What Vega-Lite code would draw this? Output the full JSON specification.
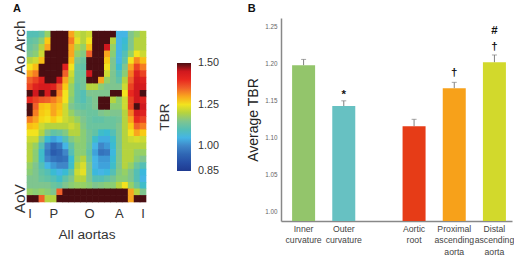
{"$schema":"https://vega.github.io/schema/vega-lite/v6.json","background":"white","padding":{"left":11,"top":3,"right":0,"bottom":0},"spacing":99,"config":{"view":{"stroke":null},"font":"Liberation Sans"},
"hconcat":[
{"width":119,"height":184,"title":{"text":"A","anchor":"start","fontSize":11,"fontWeight":"bold","color":"#111","dx":1,"offset":4},
"data":{"values":[
{"y":0,"x":0,"v":1.10},{"y":0,"x":1,"v":1.10},{"y":0,"x":2,"v":1.12},{"y":0,"x":3,"v":1.18},{"y":0,"x":4,"v":1.5},{"y":0,"x":5,"v":1.5},{"y":0,"x":6,"v":1.5},{"y":0,"x":7,"v":1.30},{"y":0,"x":8,"v":1.22},{"y":0,"x":9,"v":1.20},{"y":0,"x":10,"v":1.22},{"y":0,"x":11,"v":1.5},{"y":0,"x":12,"v":1.5},{"y":0,"x":13,"v":1.5},{"y":0,"x":14,"v":1.5},{"y":0,"x":15,"v":1.05},{"y":0,"x":16,"v":1.05},{"y":0,"x":17,"v":1.15},{"y":0,"x":18,"v":1.18},{"y":0,"x":19,"v":1.2},
{"y":1,"x":0,"v":1.12},{"y":1,"x":1,"v":1.13},{"y":1,"x":2,"v":1.17},{"y":1,"x":3,"v":1.27},{"y":1,"x":4,"v":1.5},{"y":1,"x":5,"v":1.5},{"y":1,"x":6,"v":1.5},{"y":1,"x":7,"v":1.33},{"y":1,"x":8,"v":1.24},{"y":1,"x":9,"v":1.2},{"y":1,"x":10,"v":1.25},{"y":1,"x":11,"v":1.5},{"y":1,"x":12,"v":1.5},{"y":1,"x":13,"v":1.5},{"y":1,"x":14,"v":1.2},{"y":1,"x":15,"v":1.05},{"y":1,"x":16,"v":1.07},{"y":1,"x":17,"v":1.15},{"y":1,"x":18,"v":1.2},{"y":1,"x":19,"v":1.2},
{"y":2,"x":0,"v":1.13},{"y":2,"x":1,"v":1.15},{"y":2,"x":2,"v":1.2},{"y":2,"x":3,"v":1.3},{"y":2,"x":4,"v":1.5},{"y":2,"x":5,"v":1.5},{"y":2,"x":6,"v":1.5},{"y":2,"x":7,"v":1.3},{"y":2,"x":8,"v":1.2},{"y":2,"x":9,"v":1.18},{"y":2,"x":10,"v":1.28},{"y":2,"x":11,"v":1.5},{"y":2,"x":12,"v":1.5},{"y":2,"x":13,"v":1.45},{"y":2,"x":14,"v":1.18},{"y":2,"x":15,"v":1.05},{"y":2,"x":16,"v":1.08},{"y":2,"x":17,"v":1.15},{"y":2,"x":18,"v":1.2},{"y":2,"x":19,"v":1.2},
{"y":3,"x":0,"v":1.15},{"y":3,"x":1,"v":1.17},{"y":3,"x":2,"v":1.22},{"y":3,"x":3,"v":1.5},{"y":3,"x":4,"v":1.5},{"y":3,"x":5,"v":1.5},{"y":3,"x":6,"v":1.5},{"y":3,"x":7,"v":1.3},{"y":3,"x":8,"v":1.18},{"y":3,"x":9,"v":1.16},{"y":3,"x":10,"v":1.35},{"y":3,"x":11,"v":1.5},{"y":3,"x":12,"v":1.5},{"y":3,"x":13,"v":1.3},{"y":3,"x":14,"v":1.17},{"y":3,"x":15,"v":1.05},{"y":3,"x":16,"v":1.1},{"y":3,"x":17,"v":1.18},{"y":3,"x":18,"v":1.25},{"y":3,"x":19,"v":1.22},
{"y":4,"x":0,"v":1.2},{"y":4,"x":1,"v":1.22},{"y":4,"x":2,"v":1.28},{"y":4,"x":3,"v":1.5},{"y":4,"x":4,"v":1.5},{"y":4,"x":5,"v":1.5},{"y":4,"x":6,"v":1.5},{"y":4,"x":7,"v":1.28},{"y":4,"x":8,"v":1.15},{"y":4,"x":9,"v":1.13},{"y":4,"x":10,"v":1.5},{"y":4,"x":11,"v":1.5},{"y":4,"x":12,"v":1.5},{"y":4,"x":13,"v":1.27},{"y":4,"x":14,"v":1.15},{"y":4,"x":15,"v":1.05},{"y":4,"x":16,"v":1.12},{"y":4,"x":17,"v":1.25},{"y":4,"x":18,"v":1.32},{"y":4,"x":19,"v":1.28},
{"y":5,"x":0,"v":1.25},{"y":5,"x":1,"v":1.28},{"y":5,"x":2,"v":1.5},{"y":5,"x":3,"v":1.5},{"y":5,"x":4,"v":1.5},{"y":5,"x":5,"v":1.5},{"y":5,"x":6,"v":1.42},{"y":5,"x":7,"v":1.25},{"y":5,"x":8,"v":1.13},{"y":5,"x":9,"v":1.12},{"y":5,"x":10,"v":1.5},{"y":5,"x":11,"v":1.5},{"y":5,"x":12,"v":1.5},{"y":5,"x":13,"v":1.25},{"y":5,"x":14,"v":1.15},{"y":5,"x":15,"v":1.07},{"y":5,"x":16,"v":1.15},{"y":5,"x":17,"v":1.3},{"y":5,"x":18,"v":1.38},{"y":5,"x":19,"v":1.33},
{"y":6,"x":0,"v":1.3},{"y":6,"x":1,"v":1.33},{"y":6,"x":2,"v":1.5},{"y":6,"x":3,"v":1.5},{"y":6,"x":4,"v":1.5},{"y":6,"x":5,"v":1.5},{"y":6,"x":6,"v":1.35},{"y":6,"x":7,"v":1.22},{"y":6,"x":8,"v":1.13},{"y":6,"x":9,"v":1.13},{"y":6,"x":10,"v":1.45},{"y":6,"x":11,"v":1.5},{"y":6,"x":12,"v":1.5},{"y":6,"x":13,"v":1.22},{"y":6,"x":14,"v":1.15},{"y":6,"x":15,"v":1.1},{"y":6,"x":16,"v":1.17},{"y":6,"x":17,"v":1.33},{"y":6,"x":18,"v":1.42},{"y":6,"x":19,"v":1.38},
{"y":7,"x":0,"v":1.35},{"y":7,"x":1,"v":1.38},{"y":7,"x":2,"v":1.42},{"y":7,"x":3,"v":1.5},{"y":7,"x":4,"v":1.5},{"y":7,"x":5,"v":1.45},{"y":7,"x":6,"v":1.3},{"y":7,"x":7,"v":1.2},{"y":7,"x":8,"v":1.13},{"y":7,"x":9,"v":1.14},{"y":7,"x":10,"v":1.5},{"y":7,"x":11,"v":1.5},{"y":7,"x":12,"v":1.3},{"y":7,"x":13,"v":1.18},{"y":7,"x":14,"v":1.15},{"y":7,"x":15,"v":1.12},{"y":7,"x":16,"v":1.2},{"y":7,"x":17,"v":1.35},{"y":7,"x":18,"v":1.44},{"y":7,"x":19,"v":1.42},
{"y":8,"x":0,"v":1.38},{"y":8,"x":1,"v":1.42},{"y":8,"x":2,"v":1.44},{"y":8,"x":3,"v":1.44},{"y":8,"x":4,"v":1.42},{"y":8,"x":5,"v":1.35},{"y":8,"x":6,"v":1.27},{"y":8,"x":7,"v":1.18},{"y":8,"x":8,"v":1.12},{"y":8,"x":9,"v":1.14},{"y":8,"x":10,"v":1.2},{"y":8,"x":11,"v":1.2},{"y":8,"x":12,"v":1.17},{"y":8,"x":13,"v":1.15},{"y":8,"x":14,"v":1.15},{"y":8,"x":15,"v":1.15},{"y":8,"x":16,"v":1.22},{"y":8,"x":17,"v":1.38},{"y":8,"x":18,"v":1.45},{"y":8,"x":19,"v":1.44},
{"y":9,"x":0,"v":1.5},{"y":9,"x":1,"v":1.45},{"y":9,"x":2,"v":1.5},{"y":9,"x":3,"v":1.44},{"y":9,"x":4,"v":1.5},{"y":9,"x":5,"v":1.33},{"y":9,"x":6,"v":1.25},{"y":9,"x":7,"v":1.18},{"y":9,"x":8,"v":1.12},{"y":9,"x":9,"v":1.1},{"y":9,"x":10,"v":1.15},{"y":9,"x":11,"v":1.15},{"y":9,"x":12,"v":1.15},{"y":9,"x":13,"v":1.15},{"y":9,"x":14,"v":1.5},{"y":9,"x":15,"v":1.5},{"y":9,"x":16,"v":1.25},{"y":9,"x":17,"v":1.4},{"y":9,"x":18,"v":1.45},{"y":9,"x":19,"v":1.5},
{"y":10,"x":0,"v":1.4},{"y":10,"x":1,"v":1.38},{"y":10,"x":2,"v":1.36},{"y":10,"x":3,"v":1.35},{"y":10,"x":4,"v":1.33},{"y":10,"x":5,"v":1.3},{"y":10,"x":6,"v":1.25},{"y":10,"x":7,"v":1.17},{"y":10,"x":8,"v":1.12},{"y":10,"x":9,"v":1.1},{"y":10,"x":10,"v":1.13},{"y":10,"x":11,"v":1.15},{"y":10,"x":12,"v":1.5},{"y":10,"x":13,"v":1.5},{"y":10,"x":14,"v":1.2},{"y":10,"x":15,"v":1.17},{"y":10,"x":16,"v":1.22},{"y":10,"x":17,"v":1.38},{"y":10,"x":18,"v":1.45},{"y":10,"x":19,"v":1.42},
{"y":11,"x":0,"v":1.5},{"y":11,"x":1,"v":1.35},{"y":11,"x":2,"v":1.28},{"y":11,"x":3,"v":1.27},{"y":11,"x":4,"v":1.3},{"y":11,"x":5,"v":1.28},{"y":11,"x":6,"v":1.22},{"y":11,"x":7,"v":1.15},{"y":11,"x":8,"v":1.13},{"y":11,"x":9,"v":1.12},{"y":11,"x":10,"v":1.13},{"y":11,"x":11,"v":1.15},{"y":11,"x":12,"v":1.5},{"y":11,"x":13,"v":1.5},{"y":11,"x":14,"v":1.17},{"y":11,"x":15,"v":1.17},{"y":11,"x":16,"v":1.22},{"y":11,"x":17,"v":1.38},{"y":11,"x":18,"v":1.5},{"y":11,"x":19,"v":1.45},
{"y":12,"x":0,"v":1.5},{"y":12,"x":1,"v":1.33},{"y":12,"x":2,"v":1.27},{"y":12,"x":3,"v":1.26},{"y":12,"x":4,"v":1.3},{"y":12,"x":5,"v":1.27},{"y":12,"x":6,"v":1.22},{"y":12,"x":7,"v":1.18},{"y":12,"x":8,"v":1.15},{"y":12,"x":9,"v":1.14},{"y":12,"x":10,"v":1.13},{"y":12,"x":11,"v":1.13},{"y":12,"x":12,"v":1.15},{"y":12,"x":13,"v":1.16},{"y":12,"x":14,"v":1.15},{"y":12,"x":15,"v":1.15},{"y":12,"x":16,"v":1.2},{"y":12,"x":17,"v":1.33},{"y":12,"x":18,"v":1.44},{"y":12,"x":19,"v":1.42},
{"y":13,"x":0,"v":1.33},{"y":13,"x":1,"v":1.3},{"y":13,"x":2,"v":1.26},{"y":13,"x":3,"v":1.25},{"y":13,"x":4,"v":1.27},{"y":13,"x":5,"v":1.25},{"y":13,"x":6,"v":1.22},{"y":13,"x":7,"v":1.2},{"y":13,"x":8,"v":1.18},{"y":13,"x":9,"v":1.15},{"y":13,"x":10,"v":1.13},{"y":13,"x":11,"v":1.12},{"y":13,"x":12,"v":1.12},{"y":13,"x":13,"v":1.13},{"y":13,"x":14,"v":1.13},{"y":13,"x":15,"v":1.14},{"y":13,"x":16,"v":1.2},{"y":13,"x":17,"v":1.3},{"y":13,"x":18,"v":1.4},{"y":13,"x":19,"v":1.38},
{"y":14,"x":0,"v":1.28},{"y":14,"x":1,"v":1.27},{"y":14,"x":2,"v":1.22},{"y":14,"x":3,"v":1.2},{"y":14,"x":4,"v":1.2},{"y":14,"x":5,"v":1.2},{"y":14,"x":6,"v":1.2},{"y":14,"x":7,"v":1.22},{"y":14,"x":8,"v":1.2},{"y":14,"x":9,"v":1.16},{"y":14,"x":10,"v":1.13},{"y":14,"x":11,"v":1.13},{"y":14,"x":12,"v":1.13},{"y":14,"x":13,"v":1.13},{"y":14,"x":14,"v":1.13},{"y":14,"x":15,"v":1.15},{"y":14,"x":16,"v":1.2},{"y":14,"x":17,"v":1.27},{"y":14,"x":18,"v":1.35},{"y":14,"x":19,"v":1.33},
{"y":15,"x":0,"v":1.25},{"y":15,"x":1,"v":1.25},{"y":15,"x":2,"v":1.2},{"y":15,"x":3,"v":1.15},{"y":15,"x":4,"v":1.12},{"y":15,"x":5,"v":1.13},{"y":15,"x":6,"v":1.16},{"y":15,"x":7,"v":1.2},{"y":15,"x":8,"v":1.2},{"y":15,"x":9,"v":1.17},{"y":15,"x":10,"v":1.14},{"y":15,"x":11,"v":1.12},{"y":15,"x":12,"v":1.08},{"y":15,"x":13,"v":1.07},{"y":15,"x":14,"v":1.1},{"y":15,"x":15,"v":1.15},{"y":15,"x":16,"v":1.2},{"y":15,"x":17,"v":1.25},{"y":15,"x":18,"v":1.3},{"y":15,"x":19,"v":1.27},
{"y":16,"x":0,"v":1.22},{"y":16,"x":1,"v":1.22},{"y":16,"x":2,"v":1.15},{"y":16,"x":3,"v":1.07},{"y":16,"x":4,"v":1.03},{"y":16,"x":5,"v":1.05},{"y":16,"x":6,"v":1.1},{"y":16,"x":7,"v":1.16},{"y":16,"x":8,"v":1.18},{"y":16,"x":9,"v":1.17},{"y":16,"x":10,"v":1.14},{"y":16,"x":11,"v":1.08},{"y":16,"x":12,"v":1.04},{"y":16,"x":13,"v":1.04},{"y":16,"x":14,"v":1.08},{"y":16,"x":15,"v":1.15},{"y":16,"x":16,"v":1.2},{"y":16,"x":17,"v":1.22},{"y":16,"x":18,"v":1.23},{"y":16,"x":19,"v":1.22},
{"y":17,"x":0,"v":1.2},{"y":17,"x":1,"v":1.18},{"y":17,"x":2,"v":1.1},{"y":17,"x":3,"v":1.0},{"y":17,"x":4,"v":0.95},{"y":17,"x":5,"v":0.98},{"y":17,"x":6,"v":1.05},{"y":17,"x":7,"v":1.12},{"y":17,"x":8,"v":1.17},{"y":17,"x":9,"v":1.17},{"y":17,"x":10,"v":1.13},{"y":17,"x":11,"v":1.05},{"y":17,"x":12,"v":1.0},{"y":17,"x":13,"v":1.02},{"y":17,"x":14,"v":1.07},{"y":17,"x":15,"v":1.15},{"y":17,"x":16,"v":1.2},{"y":17,"x":17,"v":1.2},{"y":17,"x":18,"v":1.2},{"y":17,"x":19,"v":1.2},
{"y":18,"x":0,"v":1.2},{"y":18,"x":1,"v":1.17},{"y":18,"x":2,"v":1.08},{"y":18,"x":3,"v":0.98},{"y":18,"x":4,"v":0.93},{"y":18,"x":5,"v":0.95},{"y":18,"x":6,"v":1.0},{"y":18,"x":7,"v":1.1},{"y":18,"x":8,"v":1.17},{"y":18,"x":9,"v":1.17},{"y":18,"x":10,"v":1.12},{"y":18,"x":11,"v":1.03},{"y":18,"x":12,"v":0.97},{"y":18,"x":13,"v":0.98},{"y":18,"x":14,"v":1.06},{"y":18,"x":15,"v":1.15},{"y":18,"x":16,"v":1.2},{"y":18,"x":17,"v":1.2},{"y":18,"x":18,"v":1.18},{"y":18,"x":19,"v":1.18},
{"y":19,"x":0,"v":1.2},{"y":19,"x":1,"v":1.17},{"y":19,"x":2,"v":1.08},{"y":19,"x":3,"v":1.0},{"y":19,"x":4,"v":0.97},{"y":19,"x":5,"v":0.96},{"y":19,"x":6,"v":0.97},{"y":19,"x":7,"v":1.07},{"y":19,"x":8,"v":1.18},{"y":19,"x":9,"v":1.2},{"y":19,"x":10,"v":1.13},{"y":19,"x":11,"v":1.05},{"y":19,"x":12,"v":1.02},{"y":19,"x":13,"v":1.02},{"y":19,"x":14,"v":1.07},{"y":19,"x":15,"v":1.15},{"y":19,"x":16,"v":1.2},{"y":19,"x":17,"v":1.2},{"y":19,"x":18,"v":1.17},{"y":19,"x":19,"v":1.15},
{"y":20,"x":0,"v":1.18},{"y":20,"x":1,"v":1.15},{"y":20,"x":2,"v":1.1},{"y":20,"x":3,"v":1.05},{"y":20,"x":4,"v":1.02},{"y":20,"x":5,"v":1.0},{"y":20,"x":6,"v":1.0},{"y":20,"x":7,"v":1.08},{"y":20,"x":8,"v":1.2},{"y":20,"x":9,"v":1.23},{"y":20,"x":10,"v":1.15},{"y":20,"x":11,"v":1.05},{"y":20,"x":12,"v":1.03},{"y":20,"x":13,"v":1.03},{"y":20,"x":14,"v":1.08},{"y":20,"x":15,"v":1.15},{"y":20,"x":16,"v":1.2},{"y":20,"x":17,"v":1.18},{"y":20,"x":18,"v":1.13},{"y":20,"x":19,"v":1.1},
{"y":21,"x":0,"v":1.17},{"y":21,"x":1,"v":1.15},{"y":21,"x":2,"v":1.12},{"y":21,"x":3,"v":1.1},{"y":21,"x":4,"v":1.07},{"y":21,"x":5,"v":1.05},{"y":21,"x":6,"v":1.07},{"y":21,"x":7,"v":1.12},{"y":21,"x":8,"v":1.22},{"y":21,"x":9,"v":1.24},{"y":21,"x":10,"v":1.15},{"y":21,"x":11,"v":1.06},{"y":21,"x":12,"v":1.05},{"y":21,"x":13,"v":1.06},{"y":21,"x":14,"v":1.1},{"y":21,"x":15,"v":1.16},{"y":21,"x":16,"v":1.18},{"y":21,"x":17,"v":1.15},{"y":21,"x":18,"v":1.1},{"y":21,"x":19,"v":1.06},
{"y":22,"x":0,"v":1.15},{"y":22,"x":1,"v":1.15},{"y":22,"x":2,"v":1.13},{"y":22,"x":3,"v":1.12},{"y":22,"x":4,"v":1.1},{"y":22,"x":5,"v":1.08},{"y":22,"x":6,"v":1.12},{"y":22,"x":7,"v":1.15},{"y":22,"x":8,"v":1.2},{"y":22,"x":9,"v":1.2},{"y":22,"x":10,"v":1.15},{"y":22,"x":11,"v":1.1},{"y":22,"x":12,"v":1.1},{"y":22,"x":13,"v":1.12},{"y":22,"x":14,"v":1.14},{"y":22,"x":15,"v":1.17},{"y":22,"x":16,"v":1.17},{"y":22,"x":17,"v":1.15},{"y":22,"x":18,"v":1.1},{"y":22,"x":19,"v":1.05},
{"y":23,"x":0,"v":1.15},{"y":23,"x":1,"v":1.15},{"y":23,"x":2,"v":1.15},{"y":23,"x":3,"v":1.15},{"y":23,"x":4,"v":1.13},{"y":23,"x":5,"v":1.12},{"y":23,"x":6,"v":1.15},{"y":23,"x":7,"v":1.17},{"y":23,"x":8,"v":1.18},{"y":23,"x":9,"v":1.18},{"y":23,"x":10,"v":1.17},{"y":23,"x":11,"v":1.15},{"y":23,"x":12,"v":1.16},{"y":23,"x":13,"v":1.17},{"y":23,"x":14,"v":1.17},{"y":23,"x":15,"v":1.2},{"y":23,"x":16,"v":1.25},{"y":23,"x":17,"v":1.18},{"y":23,"x":18,"v":1.13},{"y":23,"x":19,"v":1.08},
{"y":24,"x":0,"v":1.18},{"y":24,"x":1,"v":1.17},{"y":24,"x":2,"v":1.18},{"y":24,"x":3,"v":1.17},{"y":24,"x":4,"v":1.15},{"y":24,"x":5,"v":1.35},{"y":24,"x":6,"v":1.5},{"y":24,"x":7,"v":1.5},{"y":24,"x":8,"v":1.5},{"y":24,"x":9,"v":1.5},{"y":24,"x":10,"v":1.5},{"y":24,"x":11,"v":1.5},{"y":24,"x":12,"v":1.5},{"y":24,"x":13,"v":1.5},{"y":24,"x":14,"v":1.5},{"y":24,"x":15,"v":1.5},{"y":24,"x":16,"v":1.5},{"y":24,"x":17,"v":1.3},{"y":24,"x":18,"v":1.2},{"y":24,"x":19,"v":1.15},
{"y":25,"x":0,"v":1.5},{"y":25,"x":1,"v":1.5},{"y":25,"x":2,"v":1.35},{"y":25,"x":3,"v":1.2},{"y":25,"x":4,"v":1.2},{"y":25,"x":5,"v":1.5},{"y":25,"x":6,"v":1.5},{"y":25,"x":7,"v":1.5},{"y":25,"x":8,"v":1.5},{"y":25,"x":9,"v":1.5},{"y":25,"x":10,"v":1.5},{"y":25,"x":11,"v":1.5},{"y":25,"x":12,"v":1.5},{"y":25,"x":13,"v":1.5},{"y":25,"x":14,"v":1.5},{"y":25,"x":15,"v":1.5},{"y":25,"x":16,"v":1.5},{"y":25,"x":17,"v":1.3},{"y":25,"x":18,"v":1.5},{"y":25,"x":19,"v":1.5}
]},
"mark":{"type":"rect","width":6.6,"height":7.2},
"encoding":{
"x":{"field":"x","type":"ordinal","scale":{"type":"band","paddingInner":0,"paddingOuter":0,"domain":[0,1,2,3,4,5,6,7,8,9,10,11,12,13,14,15,16,17,18,19]},"axis":{"values":[0,4,10,15,19],"labelExpr":"datum.value==0?'I':datum.value==4?'P':datum.value==10?'O':datum.value==15?'A':'I'","labelAngle":0,"labelFontSize":13,"labelColor":"#333","labelPadding":5,"domain":false,"ticks":false,"grid":false,"title":"All aortas","titleFontSize":13.7,"titleFontWeight":"normal","titleColor":"#333","titlePadding":7}},
"y":{"field":"y","type":"ordinal","scale":{"type":"band","paddingInner":0,"paddingOuter":0,"domain":[-2,-1,0,1,2,3,4,5,6,7,8,9,10,11,12,13,14,15,16,17,18,19,20,21,22,23,24,25]},"axis":{"values":[2,25],"labelExpr":"datum.value==2?'Ao Arch':'AoV'","labelAngle":-90,"labelAlign":"center","labelBaseline":"bottom","labelFontSize":15.5,"labelColor":"#333","labelPadding":0,"labelOverlap":false,"domain":false,"ticks":false,"grid":false,"title":null}},
"color":{"field":"v","type":"quantitative","scale":{"domain":[0.85,0.9,0.95,1.0,1.05,1.1,1.15,1.2,1.25,1.3,1.35,1.4,1.45,1.5],"range":["#1f3a90","#264ea5","#2f66b4","#3f86c8","#45b5e5","#55bfb5","#7fc58f","#b5d33f","#f2e31e","#f9a51e","#f0602a","#e8281f","#d0181e","#4a0e12"]},
"legend":{"title":"TBR","orient":"none","legendX":131,"legendY":45,"direction":"vertical","titleOrient":"left","titleFontSize":13.7,"titleFontWeight":"normal","titleColor":"#333","gradientLength":108,"gradientThickness":14,"values":[0.85,1.0,1.25,1.5],"format":".2f","labelFontSize":10.8,"labelColor":"#333","labelOffset":7,"gradientStrokeWidth":0,"encode":{"labels":{"update":{"baseline":{"value":"middle"}}},"title":{"update":{"angle":{"value":-90}}}}}}
}},
{"width":231,"height":203,"title":{"text":"B","anchor":"start","fontSize":11,"fontWeight":"bold","color":"#111","dx":1,"offset":4},
"layer":[
{"data":{"values":[{"g":"Inner|curvature","a":1.198,"e":1.206,"c":"#93c56b"},{"g":"Outer|curvature","a":1.143,"e":1.150,"c":"#67c1c2"},{"g":"Aortic|root","a":1.1156,"e":1.125,"c":"#e63c17"},{"g":"Proximal|ascending|aorta","a":1.167,"e":1.175,"c":"#f7a11a"},{"g":"Distal|ascending|aorta","a":1.202,"e":1.212,"c":"#d2d92c"}]},
"layer":[
{"mark":{"type":"rule","color":"#808080","strokeWidth":1},"encoding":{"x":{"field":"g","type":"ordinal"},"y":{"field":"a","type":"quantitative"},"y2":{"field":"e"}}},
{"mark":{"type":"tick","orient":"horizontal","size":5,"thickness":1,"color":"#808080"},"encoding":{"x":{"field":"g","type":"ordinal"},"y":{"field":"e","type":"quantitative"}}},
{"mark":{"type":"bar","size":23},"encoding":{"x":{"field":"g","type":"ordinal"},"y":{"field":"a","type":"quantitative"},"y2":{"datum":0.9875},"color":{"field":"c","type":"nominal","scale":null,"legend":null}}}
],
"encoding":{"x":{"field":"g","type":"ordinal","scale":{"type":"band","paddingInner":0,"paddingOuter":0,"domain":["a0","a1","a2","a3","Inner|curvature","b1","b2","b3","b4","b5","b6","b7","Outer|curvature","c1","c2","c3","c4","c5","c6","c7","c8","c9","c10","c11","c12","c13","Aortic|root","d1","d2","d3","d4","d5","d6","d7","Proximal|ascending|aorta","e1","e2","e3","e4","e5","e6","e7","Distal|ascending|aorta","f1","f2","f3"]},"axis":{"values":["Inner|curvature","Outer|curvature","Aortic|root","Proximal|ascending|aorta","Distal|ascending|aorta"],"labelExpr":"split(datum.label,'|')","labelAngle":0,"labelFontSize":8.7,"labelColor":"#444","labelLineHeight":11.5,"labelPadding":3,"labelOverlap":false,"labelAlign":"center","ticks":false,"domainColor":"#888","domainWidth":1.5,"grid":false,"title":null}},
"y":{"type":"quantitative","scale":{"domain":[0.9875,1.262],"nice":false,"zero":false},"axis":{"values":[1.0,1.05,1.1,1.15,1.2,1.25],"format":".2f","labelFontSize":6.3,"labelColor":"#666","labelPadding":4,"ticks":false,"domainColor":"#888","domainWidth":1.5,"grid":false,"title":"Average TBR","titleFontSize":14,"titleFontWeight":"normal","titleColor":"#222","titlePadding":4}}}},
{"data":{"values":[{"g":"Outer|curvature","s":"*","t":1.158},{"g":"Proximal|ascending|aorta","s":"†","t":1.188},{"g":"Distal|ascending|aorta","s":"†","t":1.223},{"g":"Distal|ascending|aorta","s":"#","t":1.244}]},
"mark":{"type":"text","fontSize":11.5,"fontWeight":"bold","color":"#111"},
"encoding":{"x":{"field":"g","type":"ordinal"},"y":{"field":"t","type":"quantitative"},"text":{"field":"s"}}}
]}
]}
